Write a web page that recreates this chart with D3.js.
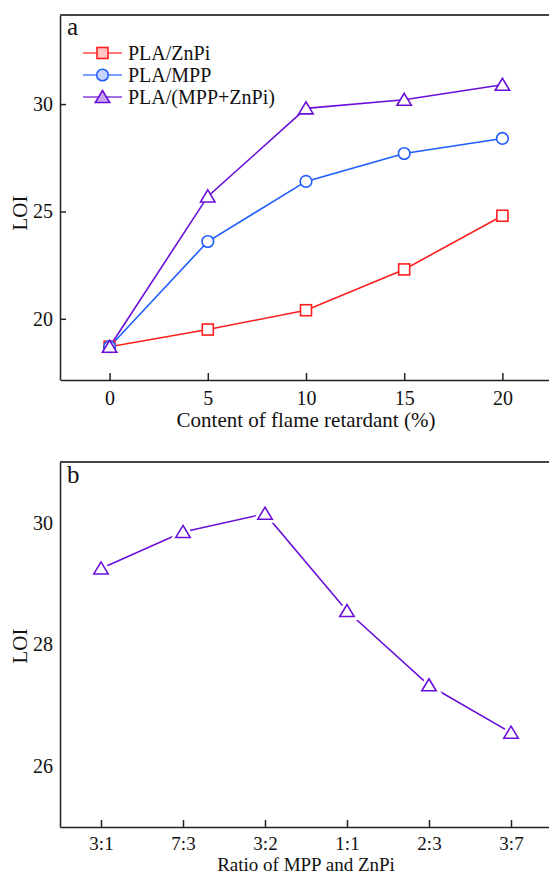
<!DOCTYPE html>
<html>
<head>
    <meta charset="utf-8">
    <title>LOI</title>
    <script src="https://cdn.jsdelivr.net/npm/d3@7"></script>
    <style>
        body { margin: 0; background: #fff; }
        svg { display: block; }
        svg text { font-family: "Liberation Serif", "Times New Roman", serif !important; fill: #111; }
        .axis path, .axis line { stroke: #222; stroke-width: 1.5; }
        .axis text { font-size: 20px; }
        .axisb text { font-size: 19px; }
    </style>
</head>
<body>
    <script>
        // panel a data
        var content = [0, 5, 10, 15, 20];
        var loiZnPi = [18.7, 19.5, 20.4, 22.3, 24.8];
        var loiMPP = [18.7, 23.6, 26.4, 27.7, 28.4];
        var loiBoth = [18.7, 25.7, 29.8, 30.2, 30.9];
        var yTicksA = [20, 25, 30];

        // panel b data
        var ratios = ["3:1", "7:3", "3:2", "1:1", "2:3", "3:7"];
        var loiRatio = [29.25, 29.85, 30.15, 28.55, 27.33, 26.55];
        var yTicksB = [26, 28, 30];

        var series = [
            {name: "PLA/ZnPi", values: loiZnPi, color: "#ff1e1e", light: "#ffc4c4", shape: "square"},
            {name: "PLA/MPP", values: loiMPP, color: "#1f5cff", light: "#c6d4ff", shape: "circle"},
            {name: "PLA/(MPP+ZnPi)", values: loiBoth, color: "#6a0fd8", light: "#c9a6f2", shape: "triangle"}
        ];

        var W = 549, H = 875;
        var svg = d3.select("body").append("svg")
            .attr("width", W)
            .attr("height", H);

        function marker(g, shape, cx, cy, fill, stroke, sw) {
            if (shape == "square") {
                g.append("rect").attr("x", cx - 5.5).attr("y", cy - 5.5)
                    .attr("width", 11).attr("height", 11)
                    .attr("fill", fill).attr("stroke", stroke).attr("stroke-width", sw);
            } else if (shape == "circle") {
                g.append("circle").attr("cx", cx).attr("cy", cy).attr("r", 5.8)
                    .attr("fill", fill).attr("stroke", stroke).attr("stroke-width", sw);
            } else {
                var pts = [[cx, cy - 6.5], [cx + 7.2, cy + 5.5], [cx - 7.2, cy + 5.5]];
                g.append("path").attr("d", "M" + pts.join("L") + "Z")
                    .attr("fill", fill).attr("stroke", stroke).attr("stroke-width", sw)
                    .attr("stroke-linejoin", "miter");
            }
        }

        // ---------- panel a ----------
        var xa = d3.scaleLinear().domain([-2.5, 22.5]).range([60.5, 551.5]);
        var ya = d3.scaleLinear().domain([17.15, 34.15]).range([380, 15]);

        var ga = svg.append("g");

        ga.append("g")
            .attr("class", "axis")
            .attr("transform", "translate(0,380)")
            .call(d3.axisBottom(xa).tickValues(content).tickSizeInner(-7).tickSizeOuter(0).tickPadding(11));

        ga.append("g")
            .attr("class", "axis")
            .attr("transform", "translate(60,0)")
            .call(d3.axisLeft(ya).tickValues(yTicksA).tickSizeInner(-6).tickSizeOuter(0).tickPadding(7));

        ga.append("line")
            .attr("x1", 60).attr("x2", W).attr("y1", 15).attr("y2", 15)
            .attr("stroke", "#444").attr("stroke-width", 1.8);

        var line = d3.line()
            .x(function(d, i) { return xa(content[i]); })
            .y(function(d) { return ya(d); });

        series.forEach(function(s) {
            ga.append("path")
                .datum(s.values)
                .attr("fill", "none")
                .attr("stroke", s.color)
                .attr("stroke-width", 1.6)
                .attr("d", line);
        });
        series.forEach(function(s) {
            s.values.forEach(function(v, i) {
                marker(ga, s.shape, xa(content[i]), ya(v), "#fff", s.color, 1.6);
            });
        });

        ga.append("text").attr("x", 67).attr("y", 35)
            .style("font-size", "25px").text("a");

        var legend = ga.selectAll(".leg").data(series).enter().append("g")
            .attr("class", "leg")
            .attr("transform", function(d, i) { return "translate(0," + (53 + i * 22) + ")"; });
        legend.append("line")
            .attr("x1", 83).attr("x2", 122).attr("y1", 0).attr("y2", 0)
            .attr("stroke", function(d) { return d.color; })
            .attr("stroke-width", 1.6).attr("opacity", 0.8);
        legend.each(function(d) {
            marker(d3.select(this), d.shape, 102.5, 0, d.light, d.color, 1.6);
        });
        legend.append("text")
            .attr("x", 128).attr("y", 7)
            .style("font-size", "20px")
            .text(function(d) { return d.name; });

        ga.append("text")
            .attr("transform", "translate(27,213) rotate(-90)")
            .attr("text-anchor", "middle")
            .style("font-size", "21px")
            .text("LOI");

        ga.append("text")
            .attr("x", 306).attr("y", 427)
            .attr("text-anchor", "middle")
            .style("font-size", "21px")
            .text("Content of flame retardant (%)");

        // ---------- panel b ----------
        var xb = d3.scalePoint().domain(ratios).range([60, 552]).padding(0.5);
        var yb = d3.scaleLinear().domain([25, 31]).range([827, 462]);

        var gb = svg.append("g");

        gb.append("g")
            .attr("class", "axis axisb")
            .attr("transform", "translate(0,827)")
            .call(d3.axisBottom(xb).tickSizeInner(-7).tickSizeOuter(0).tickPadding(10));

        gb.append("g")
            .attr("class", "axis")
            .attr("transform", "translate(60,0)")
            .call(d3.axisLeft(yb).tickValues(yTicksB).tickFormat(d3.format("d")).tickSize(0).tickPadding(7));

        gb.append("line")
            .attr("x1", 60).attr("x2", W).attr("y1", 462).attr("y2", 462)
            .attr("stroke", "#444").attr("stroke-width", 1.8);

        var lineB = d3.line()
            .x(function(d, i) { return xb(ratios[i]); })
            .y(function(d) { return yb(d); });

        gb.append("path")
            .datum(loiRatio)
            .attr("fill", "none")
            .attr("stroke", "#6a0fd8")
            .attr("stroke-width", 1.6)
            .attr("d", lineB);

        loiRatio.forEach(function(v, i) {
            // white halo leaves the small gap between line and symbol
            marker(gb, "triangle", xb(ratios[i]), yb(v), "#fff", "#fff", 7);
            marker(gb, "triangle", xb(ratios[i]), yb(v), "#fff", "#6a0fd8", 1.6);
        });

        gb.append("text").attr("x", 67).attr("y", 483)
            .style("font-size", "25px").text("b");

        gb.append("text")
            .attr("transform", "translate(27,646) rotate(-90)")
            .attr("text-anchor", "middle")
            .style("font-size", "21px")
            .text("LOI");

        gb.append("text")
            .attr("x", 306).attr("y", 871)
            .attr("text-anchor", "middle")
            .style("font-size", "19px")
            .text("Ratio of MPP and ZnPi");
    </script>
</body>
</html>
